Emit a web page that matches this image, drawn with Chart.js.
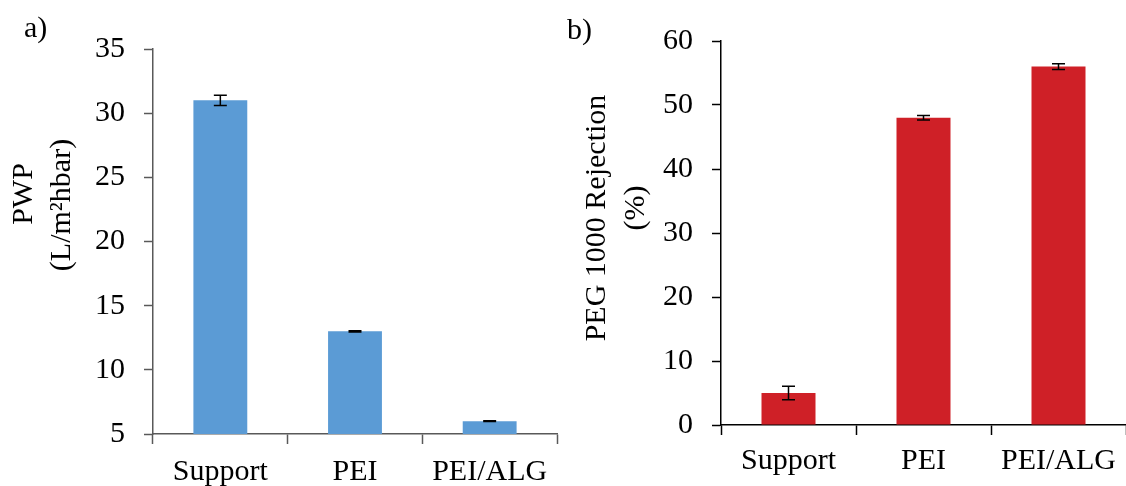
<!DOCTYPE html>
<html>
<head>
<meta charset="utf-8">
<script src="https://cdn.jsdelivr.net/npm/chart.js@4/dist/chart.umd.min.js"></script>
<style>
  html, body { margin: 0; padding: 0; background: #fff; }
  #wrap { position: relative; width: 1126px; height: 486px; }
  .panel { position: absolute; top: 0; width: 563px; height: 486px; }
  #pA { left: 0; }
  #pB { left: 563px; }
</style>
</head>
<body>
<div id="wrap">
  <div class="panel" id="pA"><canvas id="chartA" width="563" height="486"></canvas></div>
  <div class="panel" id="pB"><canvas id="chartB" width="563" height="486"></canvas></div>
</div>
<script>
// Membrane samples
const categories = ['Support', 'PEI', 'PEI/ALG'];

// a) pure water permeability, L/m2hbar
const pwpValues = [31, 13, 6];
const pwpErrors = [0.4, 0.05, 0.03];
const pwpTicks = [5, 10, 15, 20, 25, 30, 35];

// b) PEG 1000 rejection, %
const rejectionValues = [5, 48, 56];
const rejectionErrors = [1.05, 0.35, 0.45];
const rejectionTicks = [0, 10, 20, 30, 40, 50, 60];

const SERIF = '"Liberation Serif", "Times New Roman", serif';

// Draws symmetric error bars for each bar using the chart's own scales
function errorBarPlugin(errors, color) {
  return {
    id: 'errorBars',
    afterDatasetsDraw(chart) {
      const ctx = chart.ctx;
      const meta = chart.getDatasetMeta(0);
      const yScale = chart.scales.y;
      const values = chart.data.datasets[0].data;
      ctx.save();
      ctx.strokeStyle = color;
      ctx.lineWidth = 1.5;
      meta.data.forEach((bar, i) => {
        const v = values[i], e = errors[i];
        const top = yScale.getPixelForValue(v + e);
        const bot = yScale.getPixelForValue(v - e);
        const x = bar.x, half = 6.5;
        ctx.beginPath();
        ctx.moveTo(x, top); ctx.lineTo(x, bot);
        ctx.moveTo(x - half, top); ctx.lineTo(x + half, top);
        ctx.moveTo(x - half, bot); ctx.lineTo(x + half, bot);
        ctx.stroke();
      });
      ctx.restore();
    }
  };
}

// Panel letter and rotated two-line axis title
function annotationPlugin(letter, letterPos, titleLines) {
  return {
    id: 'annotations',
    afterDraw(chart) {
      const ctx = chart.ctx;
      ctx.save();
      ctx.fillStyle = '#000';
      ctx.font = '30px ' + SERIF;
      ctx.textAlign = 'left';
      ctx.textBaseline = 'alphabetic';
      ctx.fillText(letter, letterPos[0], letterPos[1]);
      titleLines.forEach(l => {
        ctx.save();
        ctx.translate(l.x, l.y);
        ctx.rotate(-Math.PI / 2);
        ctx.textAlign = 'center';
        ctx.textBaseline = 'middle';
        ctx.fillText(l.text, 0, 0);
        ctx.restore();
      });
      ctx.restore();
    }
  };
}

function makeChart(canvasId, cfg) {
  return new Chart(document.getElementById(canvasId), {
    type: 'bar',
    data: {
      labels: categories,
      datasets: [{
        data: cfg.values,
        backgroundColor: cfg.barColor,
        borderWidth: 0,
        categoryPercentage: 1.0,
        barPercentage: 0.4
      }]
    },
    options: {
      responsive: false,
      animation: false,
      devicePixelRatio: 1,
      layout: { padding: { left: 0, right: cfg.padRight, top: cfg.padTop, bottom: 0 } },
      plugins: { legend: { display: false }, tooltip: { enabled: false }, title: { display: false } },
      scales: {
        x: {
          offset: true,
          grid: {
            offset: true,
            drawOnChartArea: false,
            drawTicks: true,
            tickLength: 10,
            tickWidth: 1.5,
            tickColor: cfg.axisColor
          },
          border: { display: true, color: cfg.axisColor, width: 1.5 },
          ticks: { color: '#000', font: { family: SERIF, size: 30 }, padding: cfg.xLabelPad, maxRotation: 0, autoSkip: false },
          afterFit(scale) { scale.height = cfg.xAxisHeight; }
        },
        y: {
          min: cfg.ticks[0],
          max: cfg.ticks[cfg.ticks.length - 1],
          afterBuildTicks(scale) { scale.ticks = cfg.ticks.map(v => ({ value: v })); },
          grid: {
            drawOnChartArea: false,
            drawTicks: true,
            tickLength: 9,
            tickWidth: 1.5,
            tickColor: cfg.axisColor
          },
          border: { display: true, color: cfg.axisColor, width: 1.5 },
          ticks: { color: '#000', font: { family: SERIF, size: 30 }, padding: 19 },
          afterFit(scale) { scale.width = cfg.yAxisWidth; }
        }
      }
    },
    plugins: [errorBarPlugin(cfg.errors, '#000'), annotationPlugin(cfg.letter, cfg.letterPos, cfg.titleLines)]
  });
}

makeChart('chartA', {
  values: pwpValues,
  errors: pwpErrors,
  ticks: pwpTicks,
  barColor: '#5B9BD5',
  axisColor: '#595959',
  padTop: 49,
  padRight: 6,
  xAxisHeight: 52,
  xLabelPad: 10,
  yAxisWidth: 153,
  letter: 'a)',
  letterPos: [24, 37],
  titleLines: [
    { text: 'PWP', x: 24, y: 194 },
    { text: '(L/m\u00B2hbar)', x: 62, y: 205 }
  ]
});

makeChart('chartB', {
  values: rejectionValues,
  errors: rejectionErrors,
  ticks: rejectionTicks,
  barColor: '#CF2027',
  axisColor: '#000',
  padTop: 41,
  padRight: 0,
  xAxisHeight: 61,
  xLabelPad: 8,
  yAxisWidth: 158,
  letter: 'b)',
  letterPos: [4, 39],
  titleLines: [
    { text: 'PEG 1000 Rejection', x: 34, y: 218 },
    { text: '(%)', x: 73, y: 208 }
  ]
});
</script>
</body>
</html>
